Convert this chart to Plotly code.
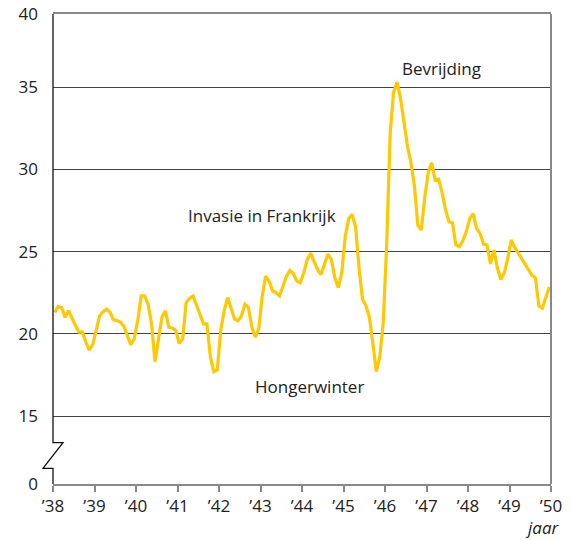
import plotly.graph_objects as go

# Monthly index values, Jan 1938 .. Dec 1949
years = list(range(1938, 1950))
values_1938 = [21.3, 21.65, 21.6, 21.0, 21.4, 20.9, 20.5, 20.1, 20.1, 19.5, 19.0, 19.35]
values_1939 = [20.2, 21.1, 21.35, 21.5, 21.3, 20.85, 20.8, 20.7, 20.45, 19.9, 19.33, 19.7]
values_1940 = [20.8, 22.3, 22.3, 21.8, 20.6, 18.3, 19.8, 21.0, 21.4, 20.4, 20.35, 20.2]
values_1941 = [19.4, 19.7, 21.9, 22.15, 22.3, 21.7, 21.1, 20.6, 20.6, 18.6, 17.7, 17.8]
values_1942 = [20.2, 21.4, 22.2, 21.5, 20.9, 20.8, 21.1, 21.8, 21.6, 20.4, 19.8, 20.3]
values_1943 = [22.3, 23.5, 23.2, 22.6, 22.5, 22.3, 22.9, 23.5, 23.85, 23.65, 23.2, 23.1]
values_1944 = [23.7, 24.5, 24.9, 24.4, 23.9, 23.6, 24.2, 24.85, 24.5, 23.4, 22.8, 23.7]
values_1945 = [25.9, 27.0, 27.25, 26.5, 24.0, 22.1, 21.7, 21.0, 19.4, 17.7, 18.6, 20.7]
values_1946 = [25.5, 32.2, 34.7, 35.3, 34.3, 32.7, 31.4, 30.4, 29.0, 26.6, 26.3, 28.3]
values_1947 = [29.8, 30.4, 29.35, 29.4, 28.6, 27.55, 26.8, 26.75, 25.4, 25.3, 25.65, 26.2]
values_1948 = [27.0, 27.3, 26.4, 26.1, 25.45, 25.4, 24.25, 25.1, 24.0, 23.3, 23.7, 24.6]
values_1949 = [25.7, 25.25, 24.9, 24.6, 24.25, 23.85, 23.55, 23.4, 21.7, 21.56, 22.27, 22.85]

all_values = (values_1938 + values_1939 + values_1940 + values_1941 + values_1942 +
              values_1943 + values_1944 + values_1945 + values_1946 + values_1947 +
              values_1948 + values_1949)
months = [y + (m + 0.5) / 12 for y in years for m in range(12)]

tick_years = list(range(1938, 1951))
tick_labels = ["\u2019" + str(y)[2:] for y in tick_years]

# Y axis with a break: bottom of plot shows "0", top shows "40"
y_bottom = 10.87
y_top = 39.44
y_tickvals = [y_bottom, 15, 20, 25, 30, 35, y_top]
y_ticktext = ["0", "15", "20", "25", "30", "35", "40"]

annotations_text = ["Bevrijding", "Invasie in Frankrijk", "Hongerwinter"]
annotations_x = [1947.37, 1943.03, 1944.18]
annotations_y = [36.1, 27.17, 16.8]

FONT = "Open Sans"
TXT = "#222222"
FS = 17

fig = go.Figure()
fig.add_trace(go.Scatter(
    x=months, y=all_values, mode="lines",
    line=dict(color="#FFC800", width=3.2), hoverinfo="skip", showlegend=False,
))

for t, ax, ay in zip(annotations_text, annotations_x, annotations_y):
    fig.add_annotation(x=ax, y=ay, text=t, showarrow=False,
                       font=dict(family=FONT, size=FS, color=TXT),
                       xanchor="center", yanchor="middle")

fig.add_annotation(xref="paper", yref="paper", x=0.982, y=-0.093, text="<i>jaar</i>",
                   showarrow=False, font=dict(family=FONT, size=FS, color=TXT),
                   xanchor="center", yanchor="middle")

# Left axis with break zigzag
fig.add_shape(type="path", xref="paper", yref="y", xsizemode="pixel", xanchor=0,
              path=f"M 0,{y_top} L 0,13.38 L 10,13.38 L -10,11.82 L 0,11.82 L 0,{y_bottom}",
              line=dict(color="#111111", width=1.3), layer="above")
# Right border
fig.add_shape(type="line", xref="paper", yref="y", x0=1, x1=1, y0=y_bottom, y1=y_top,
              line=dict(color="#888888", width=2), layer="above")

fig.update_layout(
    width=571, height=540,
    margin=dict(l=53, r=20, t=14, b=56, autoexpand=False),
    plot_bgcolor="white", paper_bgcolor="white",
    font=dict(family=FONT, size=FS, color=TXT),
    xaxis=dict(range=[1938, 1950], tickvals=tick_years, ticktext=tick_labels,
               showgrid=False, zeroline=False, showline=True, linecolor="#888888",
               linewidth=2, mirror=True, ticks="outside", ticklen=6, tickcolor="#888888",
               tickwidth=1.5, automargin=False,
               tickfont=dict(family=FONT, size=FS, color=TXT)),
    yaxis=dict(range=[y_bottom, y_top], tickvals=y_tickvals, ticktext=y_ticktext,
               showgrid=True, gridcolor="#444444", gridwidth=1, zeroline=False,
               showline=False, ticks="", ticklabelstandoff=14, automargin=False,
               tickfont=dict(family=FONT, size=FS, color=TXT)),
)

fig.write_html("out.html", config={"displayModeBar": False},
               post_script="document.body.style.margin='0';document.body.style.overflow='hidden';")
